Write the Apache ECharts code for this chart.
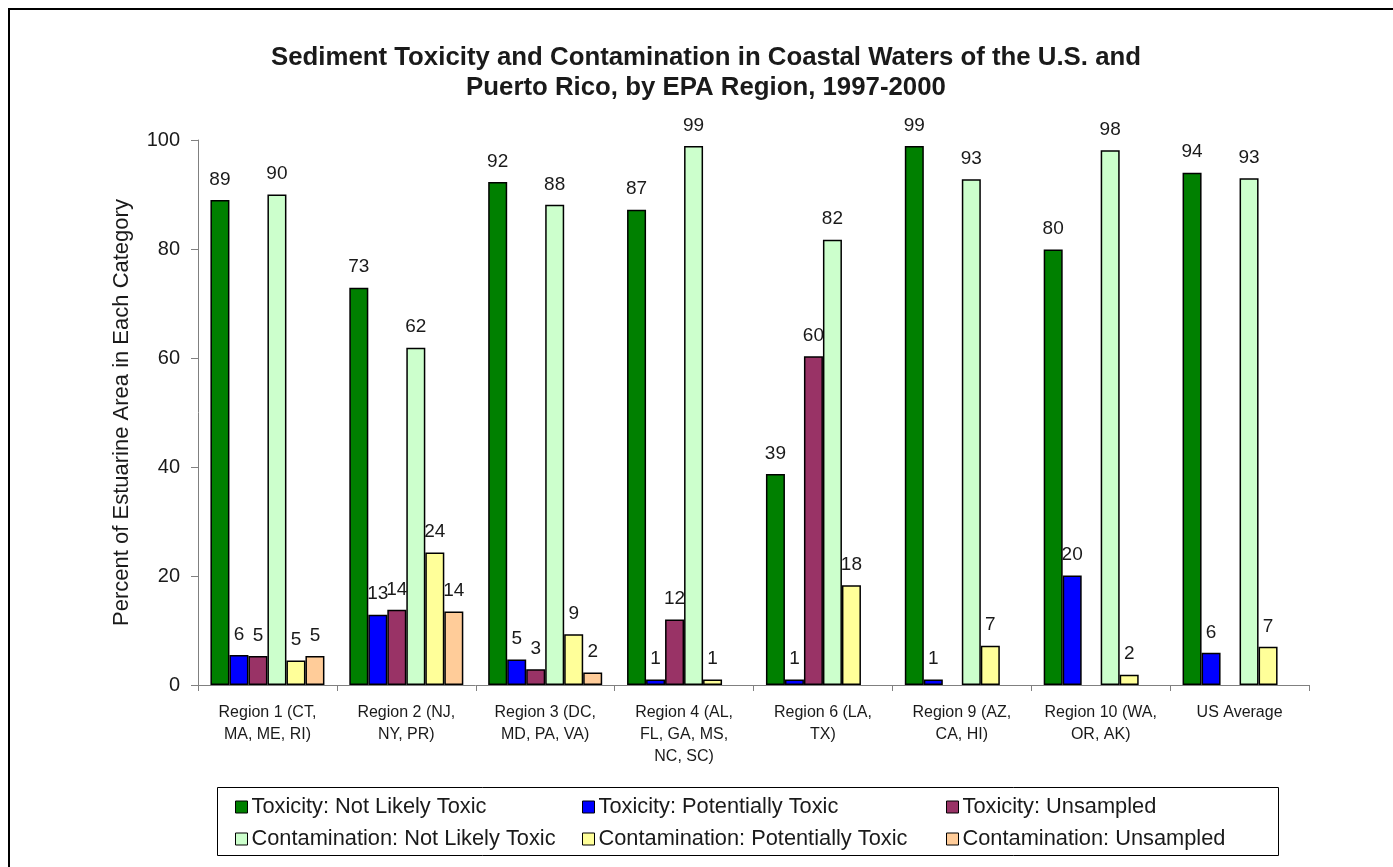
<!DOCTYPE html>
<html>
<head>
<meta charset="utf-8">
<script src="https://cdn.jsdelivr.net/npm/echarts@6/dist/echarts.min.js"></script>
<style>
html,body{margin:0;padding:0;background:#fff;}
#chart{width:1393px;height:867px;}
</style>
</head>
<body>
<div id="chart"></div>
<script>
const categories = [
  'Region 1 (CT,\nMA, ME, RI)',
  'Region 2 (NJ,\nNY, PR)',
  'Region 3 (DC,\nMD, PA, VA)',
  'Region 4 (AL,\nFL, GA, MS,\nNC, SC)',
  'Region 6 (LA,\nTX)',
  'Region 9 (AZ,\nCA, HI)',
  'Region 10 (WA,\nOR, AK)',
  'US Average'
];
const seriesNames = [
  'Toxicity: Not Likely Toxic',
  'Toxicity: Potentially Toxic',
  'Toxicity: Unsampled',
  'Contamination: Not Likely Toxic',
  'Contamination: Potentially Toxic',
  'Contamination: Unsampled'
];
const toxNotLikely   = [89.0, 72.9, 92.3, 87.2, 38.7, 98.9, 79.9, 94.0];
const toxPotential   = [5.5, 12.9, 4.7, 1.0, 1.0, 1.0, 20.1, 5.9];
const toxUnsampled   = [5.3, 13.8, 2.9, 12.0, 60.3, null, null, null];
const conNotLikely   = [90.0, 61.9, 88.1, 98.9, 81.7, 92.8, 98.1, 93.0];
const conPotential   = [4.5, 24.3, 9.3, 1.0, 18.3, 7.2, 1.9, 7.0];
const conUnsampled   = [5.3, 13.5, 2.3, null, null, null, null, null];
const yTicks = [0, 20, 40, 60, 80, 100];

const colors = ['#008000', '#0000FF', '#993366', '#CCFFCC', '#FFFF99', '#FFCC99'];
const allData = [toxNotLikely, toxPotential, toxUnsampled, conNotLikely, conPotential, conUnsampled];
const FONT = '"Liberation Sans", Arial, sans-serif';
const TXT = '#1a1a1a';

const chart = echarts.init(document.getElementById('chart'), null, {renderer: 'canvas'});

const series = seriesNames.map((name, i) => ({
  name: name,
  type: 'bar',
  data: allData[i],
  barWidth: 19,
  barGap: '0%',
  itemStyle: { color: colors[i], borderColor: '#000', borderWidth: 1.5 },
  label: {
    show: true,
    position: 'top',
    distance: 11,
    fontFamily: FONT,
    fontSize: 19,
    color: TXT,
    formatter: p => (p.value == null || p.value === 0) ? '' : String(Math.round(p.value))
  },
  emphasis: { disabled: true },
  animation: false
}));

function legendCol(names, left) {
  return {
    orient: 'vertical',
    left: left,
    top: 791,
    itemWidth: 12,
    itemHeight: 12,
    itemGap: 10,
    icon: 'rect',
    data: names,
    itemStyle: { borderColor: '#000', borderWidth: 1 },
    textStyle: { fontFamily: FONT, fontSize: 21.8, color: TXT, padding: [0, 0, 0, -1] },
    selectedMode: false
  };
}

chart.setOption({
  backgroundColor: '#fff',
  animation: false,
  textStyle: { fontFamily: FONT },
  graphic: [
    { type: 'rect', shape: { x: 9, y: 9, width: 1420, height: 900 }, style: { fill: 'none', stroke: '#000', lineWidth: 2 }, silent: true, z: 100 },
    { type: 'rect', shape: { x: 217.5, y: 787.5, width: 1061, height: 68 }, style: { fill: 'none', stroke: '#000', lineWidth: 1 }, silent: true },
    { type: 'text', x: 706, y: 43, style: { text: 'Sediment Toxicity and Contamination in Coastal Waters of the U.S. and\nPuerto Rico, by EPA Region, 1997-2000', font: 'bold 25.8px ' + FONT, fill: TXT, textAlign: 'center', textVerticalAlign: 'top', lineHeight: 30 }, silent: true }
  ],
  grid: { left: 198, right: 84, top: 140, bottom: 182, containLabel: false },
  legend: [
    legendCol([seriesNames[0], seriesNames[3]], 230),
    legendCol([seriesNames[1], seriesNames[4]], 577),
    legendCol([seriesNames[2], seriesNames[5]], 941)
  ],
  xAxis: {
    type: 'category',
    data: categories,
    boundaryGap: true,
    axisLine: { lineStyle: { color: '#808080', width: 1 } },
    axisTick: { show: true, alignWithLabel: false, length: 6, lineStyle: { color: '#808080' } },
    axisLabel: { interval: 0, fontFamily: FONT, fontSize: 16, color: TXT, lineHeight: 22, margin: 17, align: 'center' }
  },
  yAxis: {
    type: 'value',
    min: yTicks[0],
    max: yTicks[yTicks.length - 1],
    interval: 20,
    name: 'Percent of Estuarine Area in Each Category',
    nameLocation: 'middle',
    nameGap: 65,
    nameTextStyle: { fontFamily: FONT, fontSize: 22, color: TXT },
    axisLine: { show: true, lineStyle: { color: '#808080', width: 1 } },
    axisTick: { show: true, inside: false, length: 7, lineStyle: { color: '#808080' } },
    axisLabel: { fontFamily: FONT, fontSize: 20, color: TXT, margin: 18 },
    splitLine: { show: false }
  },
  series: series
});
</script>
</body>
</html>
